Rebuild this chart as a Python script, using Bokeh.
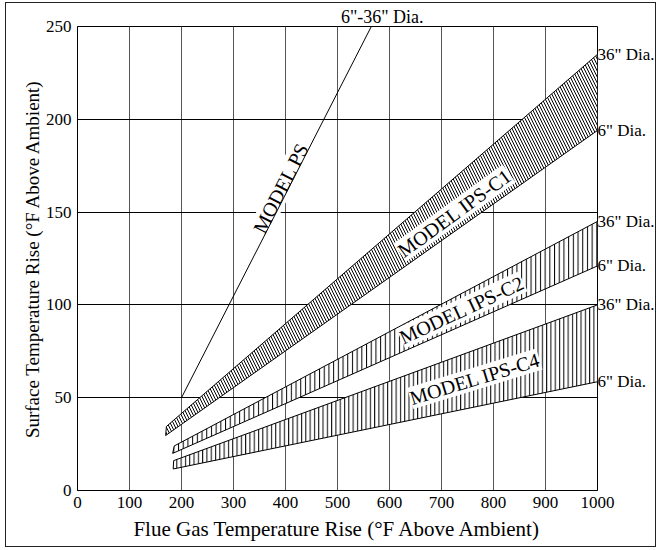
from bokeh.plotting import figure
from bokeh.models import SingleIntervalTicker, FixedTicker, LinearAxis, ColumnDataSource
from bokeh.core.properties import value
from bokeh.embed import file_html
from bokeh.resources import INLINE

FONT = "Liberation Serif"

# ---- data ----
ps_x = [200, 565]
ps_y = [50, 250]

c1_x = [169.5, 1000, 1000, 171]
c1_y = [29.6, 194, 235, 34.5]

c2_x = [183, 1000, 1000, 186]
c2_y = [20, 121, 145, 24]

c4_x = [184, 1000, 1000, 185]
c4_y = [11.6, 58.6, 100, 16.1]

dia_labels = ['36" Dia.', '6" Dia.', '36" Dia.', '6" Dia.', '36" Dia.', '6" Dia.']
dia_y = [235, 194, 145, 121, 100, 58.6]

ps_dia_label = '6"-36" Dia.'
ps_dia_x = 586

model_text = ["MODEL PS", "MODEL IPS-C1", "MODEL IPS-C2", "MODEL IPS-C4"]
model_x = [391, 725, 739, 764]
model_y = [163, 149.5, 97.3, 60.2]
model_angle = [63, 36, 25, 17]

x_label = "Flue Gas Temperature Rise (°F Above Ambient)"
y_label = "Surface Temperature Rise (°F Above Ambient)"

p = figure(width=651, height=545, x_range=(0, 1000), y_range=(0, 250),
           output_backend="svg", toolbar_location=None,
           min_border_left=71, min_border_right=59, min_border_top=20, min_border_bottom=58)
p.styles = {"border": "1px solid #222222", "margin-left": "5px", "margin-top": "2px"}
p.background_fill_color = "white"
p.border_fill_color = "white"
p.outline_line_color = "black"
p.outline_line_width = 1

p.xaxis.ticker = SingleIntervalTicker(interval=100)
p.yaxis.ticker = SingleIntervalTicker(interval=50)
for ax in (p.xaxis, p.yaxis):
    ax.axis_line_color = "black"
    ax.major_tick_line_color = None
    ax.minor_tick_line_color = None
    ax.major_tick_out = 0
    ax.major_tick_in = 0
    ax.minor_tick_out = 0
    ax.minor_tick_in = 0
    ax.major_label_text_font = FONT
    ax.major_label_text_font_size = "17px"
    ax.major_label_text_color = "black"
    ax.axis_label_text_font = FONT
    ax.axis_label_text_font_style = "normal"
    ax.axis_label_text_color = "black"
p.xaxis.axis_label_text_font_size = "21px"
p.yaxis.axis_label_text_font_size = "19px"
p.xaxis.major_label_standoff = 6
p.yaxis.major_label_standoff = 6
p.xaxis.axis_label = x_label
p.yaxis.axis_label = y_label
p.xaxis.axis_label_standoff = 6
p.yaxis.axis_label_standoff = 0

p.xgrid.grid_line_color = "#555555"
p.ygrid.grid_line_color = "black"

# right-hand diameter labels
right_ax = LinearAxis(ticker=FixedTicker(ticks=dia_y),
                      major_label_overrides={v: t for v, t in zip(dia_y, dia_labels)})
# top label for MODEL PS
top_ax = LinearAxis(ticker=FixedTicker(ticks=[ps_dia_x]),
                    major_label_overrides={ps_dia_x: ps_dia_label})
for ax in (right_ax, top_ax):
    ax.axis_line_color = None
    ax.major_tick_line_color = None
    ax.minor_tick_line_color = None
    ax.major_tick_out = 0
    ax.major_tick_in = 0
    ax.minor_tick_out = 0
    ax.minor_tick_in = 0
    ax.major_label_text_font = FONT
    ax.major_label_text_color = "black"
right_ax.major_label_text_font_size = "17px"
right_ax.major_label_standoff = 0
top_ax.major_label_text_font_size = "18px"
top_ax.major_label_standoff = 0
p.add_layout(right_ax, "right")
p.add_layout(top_ax, "above")

# hatched bands (fill only)
p.patch(c1_x, c1_y, fill_color="white", line_color=None,
        hatch_pattern="\\", hatch_color="black", hatch_scale=6, hatch_weight=1)
p.patch(c2_x, c2_y, fill_color="white", line_color=None,
        hatch_pattern="|", hatch_color="black", hatch_scale=4.7, hatch_weight=1)
p.patch(c4_x, c4_y, fill_color="white", line_color=None,
        hatch_pattern="|", hatch_color="black", hatch_scale=4.3, hatch_weight=1)

# model labels with white background
src = ColumnDataSource(dict(x=model_x, y=model_y, text=model_text, angle=model_angle))
p.text(x="x", y="y", text="text", angle="angle", angle_units="deg", source=src,
       text_font=value(FONT), text_font_size="20px", text_color="black",
       text_align="center", text_baseline="middle",
       background_fill_color="white", padding=0)

# band outlines
for bx, by in ((c1_x, c1_y), (c2_x, c2_y), (c4_x, c4_y)):
    p.patch(bx, by, fill_color=None, line_color="black", line_width=1)

p.line(ps_x, ps_y, line_color="black", line_width=1)

open("out.html", "w").write(file_html(p, INLINE))
